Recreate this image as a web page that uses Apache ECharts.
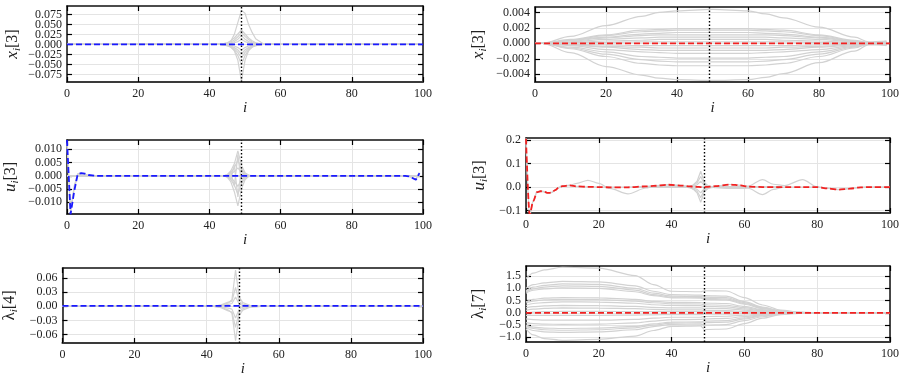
<!DOCTYPE html>
<html>
<head>
<meta charset="utf-8">
<title>trajectories</title>
<script src="https://cdn.jsdelivr.net/npm/echarts@6/dist/echarts.min.js"></script>
<style>
html, body { margin: 0; padding: 0; background: #fff; }
#main { width: 904px; height: 380px; }
</style>
</head>
<body>
<div id="main"></div>
<script>
// ---------------- data ----------------
// x ticks shared by every panel
var iTicks = [0, 20, 40, 60, 80, 100];

// panel 1 : x_i[3] (left)
var x1Ticks = [-0.075, -0.05, -0.025, 0, 0.025, 0.05, 0.075];
var x1Idx = [0, 43, 45, 46, 47, 48, 49, 50, 51, 52, 53, 55, 99];
var x1Gray = [
	[0, 0, 0.002, 0.008, 0.025, 0.055, 0.085, 0.078, 0.05, 0.03, 0.014, 0.002, 0],
	[0, 0, 0.004, 0.009, 0.016, 0.026, 0.036, 0.026, 0.016, 0.009, 0.004, 0, 0],
	[0, 0, 0.003, 0.006, 0.011, 0.019, 0.03, 0.02, 0.012, 0.006, 0.003, 0, 0],
	[0, 0, 0.002, 0.004, 0.007, 0.013, 0.022, 0.013, 0.007, 0.004, 0.002, 0, 0],
	[0, 0, 0.001, 0.002, 0.004, 0.007, 0.012, 0.007, 0.004, 0.002, 0.001, 0, 0],
	[0, 0, -0.001, -0.002, -0.004, -0.008, -0.014, -0.008, -0.004, -0.002, -0.001, 0, 0],
	[0, 0, -0.002, -0.004, -0.008, -0.014, -0.024, -0.014, -0.008, -0.004, -0.002, 0, 0],
	[0, 0, -0.003, -0.006, -0.011, -0.02, -0.034, -0.02, -0.011, -0.006, -0.003, 0, 0],
	[0, 0, -0.003, -0.007, -0.014, -0.028, -0.05, -0.028, -0.014, -0.007, -0.003, 0, 0],
	[0, 0, -0.002, -0.006, -0.016, -0.04, -0.092, -0.04, -0.016, -0.006, -0.002, 0, 0]
];
var x1RefIdx = [0, 100];
var x1Ref = [0, 0];

// panel 2 : x_i[3] (right)
var x2Ticks = [-0.004, -0.002, 0, 0.002, 0.004];
var x2Idx = [0, 2, 10, 20, 30, 35, 40, 50, 60, 65, 70, 80, 90, 94, 99];
var x2Gray = [
	[0, 0, 0.0009, 0.0023, 0.0035, 0.0040, 0.0042, 0.0044, 0.0042, 0.0038, 0.0033, 0.0021, 0.0008, 0.0002, 0.0003],
	[0, 0, 0.0005, 0.0011, 0.0017, 0.0018, 0.0019, 0.0019, 0.0019, 0.0018, 0.0017, 0.0011, 0.0004, 0.0001, -0.0002],
	[0, 0, 0.0004, 0.0010, 0.0015, 0.0016, 0.0017, 0.0017, 0.0017, 0.0016, 0.0015, 0.0010, 0.0003, 0.0001, 0.0002],
	[0, 0, 0.0004, 0.0008, 0.0012, 0.0013, 0.0014, 0.0014, 0.0014, 0.0013, 0.0012, 0.0008, 0.0003, 0, 0.0001],
	[0, 0, 0.0003, 0.0007, 0.0010, 0.0011, 0.0011, 0.0011, 0.0011, 0.0011, 0.0010, 0.0007, 0.0002, 0, -0.0001],
	[0, 0, 0.0002, 0.0005, 0.0007, 0.0008, 0.0008, 0.0008, 0.0008, 0.0008, 0.0007, 0.0005, 0.0002, 0, 0.0002],
	[0, 0, 0.0001, 0.0003, 0.0004, 0.0005, 0.0005, 0.0005, 0.0005, 0.0005, 0.0004, 0.0003, 0.0001, 0, -0.0002],
	[0, 0, 0.0001, 0.0001, 0.0002, 0.0002, 0.0002, 0.0002, 0.0002, 0.0002, 0.0002, 0.0001, 0, 0, 0.0003],
	[0, 0, -0.0001, -0.0002, -0.0003, -0.0003, -0.0003, -0.0003, -0.0003, -0.0003, -0.0003, -0.0002, -0.0001, 0, -0.0003],
	[0, 0, -0.0002, -0.0004, -0.0005, -0.0006, -0.0006, -0.0006, -0.0006, -0.0006, -0.0005, -0.0004, -0.0001, 0, 0.0001],
	[0, 0, -0.0002, -0.0005, -0.0008, -0.0009, -0.0009, -0.0009, -0.0009, -0.0009, -0.0008, -0.0005, -0.0002, 0, -0.0001],
	[0, 0, -0.0003, -0.0008, -0.0011, -0.0012, -0.0013, -0.0013, -0.0013, -0.0012, -0.0011, -0.0008, -0.0003, 0, 0.0002],
	[0, 0, -0.0005, -0.0011, -0.0017, -0.0018, -0.0019, -0.0019, -0.0019, -0.0018, -0.0017, -0.0011, -0.0004, -0.0001, -0.0002],
	[0, 0, -0.0006, -0.0014, -0.0021, -0.0023, -0.0024, -0.0024, -0.0024, -0.0023, -0.0021, -0.0014, -0.0005, -0.0001, 0.0001],
	[0, 0, -0.0007, -0.0017, -0.0026, -0.0028, -0.0029, -0.0029, -0.0029, -0.0028, -0.0026, -0.0017, -0.0006, -0.0001, -0.0001],
	[0, 0, -0.0012, -0.0030, -0.0041, -0.0045, -0.0047, -0.0048, -0.0047, -0.0044, -0.0039, -0.0025, -0.0010, -0.0002, -0.0002]
];
var x2RefIdx = [0, 100];
var x2Ref = [0, 0];

// panel 3 : u_i[3] (left)
var u3Ticks = [-0.01, -0.005, 0, 0.005, 0.01];
var u3RefIdx = [0, 1, 2, 3, 4, 5, 6, 8, 95, 96, 97, 98, 99];
var u3Ref = [0.0135, -0.0145, -0.006, 0.0006, 0.001, 0.0008, 0.0003, 0, 0, -0.0002, -0.0008, -0.0015, 0.001];
var u3EdgeGray = [
	[0.012, -0.013, -0.004, 0.0008, 0.0009, 0.0006, 0.0002, 0, 0, -0.0002, -0.0007, -0.0013, 0.0008],
	[0.0125, -0.0138, -0.005, 0.0002, 0.0008, 0.0005, 0.0002, 0, 0, -0.0001, -0.0006, -0.0012, 0.0012]
];
var u3Idx = [0, 44, 45, 46, 47, 48, 49, 50, 51, 52, 99];
var u3Gray = [
	[0, 0, 0.0004, 0.0018, 0.0045, 0.0094, 0.004, 0.0012, 0.0003, 0, 0],
	[0, 0, -0.0005, -0.0022, -0.006, -0.0113, -0.005, -0.0015, -0.0003, 0, 0],
	[0, 0, 0.0003, 0.0012, 0.003, 0.006, 0.0025, 0.0008, 0.0002, 0, 0],
	[0, 0, -0.0003, -0.0014, -0.0035, -0.007, -0.003, -0.0009, -0.0002, 0, 0],
	[0, 0, 0.0002, 0.0007, 0.0016, 0.003, 0.0013, 0.0004, 0, 0, 0],
	[0, 0, -0.0002, -0.0008, -0.002, -0.004, -0.0016, -0.0005, 0, 0, 0],
	[0, 0, 0.0003, -0.0015, 0.004, -0.008, 0.003, -0.001, 0.0002, 0, 0],
	[0, 0, -0.0003, 0.0015, -0.004, 0.008, -0.003, 0.001, -0.0002, 0, 0]
];

// panel 4 : u_i[3] (right)
var u4Ticks = [-0.1, 0, 0.1, 0.2];
var u4Idx = [0, 1, 2, 3, 4, 5, 6, 7, 8, 9, 10, 12, 14, 17, 20, 23, 28, 33, 35, 39, 43, 45, 46, 47, 48, 49, 50, 51, 52, 56, 59, 61, 65, 68, 71, 76, 80, 83, 86, 89, 92, 95, 100];
var u4Ref = [0.207, -0.118, -0.06, -0.022, -0.018, -0.02, -0.025, -0.024, -0.013, -0.002, 0.004, 0.007, 0.003, 0.001, 0, -0.001, -0.001, 0.003, 0.005, 0.01, 0.006, 0.003, 0.002, 0.001, 0, 0, 0.001, 0.002, 0.004, 0.011, 0.007, 0.002, 0, 0, 0, 0, 0, -0.006, -0.011, -0.007, -0.001, 0, 0];
var u4Gray = [
	[0.2, -0.115, -0.058, -0.02, -0.016, -0.019, -0.024, -0.023, -0.012, -0.001, 0.005, 0.008, 0.016, 0.029, 0.016, -0.006, -0.029, -0.004, 0.004, 0.01, 0.006, 0.003, 0.002, 0.001, 0, 0, 0.001, 0.002, 0.004, 0.011, 0.007, 0.004, 0.032, 0.012, 0.006, 0.032, 0.001, -0.006, -0.011, -0.007, -0.001, 0, 0],
	[0.21, -0.12, -0.062, -0.024, -0.019, -0.021, -0.025, -0.024, -0.014, -0.003, 0.004, 0.006, 0.003, 0.001, 0, 0, 0, 0.003, 0.005, 0.009, 0.005, 0.002, 0.002, 0.001, 0, 0, 0, -0.001, -0.003, -0.006, -0.006, -0.005, -0.032, -0.01, 0, 0, 0, -0.005, -0.01, -0.006, -0.001, 0, 0]
];
var u4SpikeIdx = [30, 44, 45, 46, 47, 48, 49, 50, 51, 52, 70];
var u4Spike = [
	[0, 0, 0.002, 0.01, 0.025, 0.068, 0.02, 0.006, 0.002, 0, 0],
	[0, 0, -0.002, -0.01, -0.025, -0.065, -0.02, -0.006, -0.002, 0, 0],
	[0, 0, 0.002, 0.008, 0.018, 0.045, 0.012, 0.004, 0.001, 0, 0],
	[0, 0, -0.002, -0.008, -0.018, -0.045, -0.012, -0.004, -0.001, 0, 0],
	[0, 0, 0.001, 0.004, 0.01, 0.025, 0.006, 0.002, 0, 0, 0],
	[0, 0, -0.001, -0.004, -0.01, -0.025, -0.006, -0.002, 0, 0, 0]
];

// panel 5 : lambda_i[4] (left)
var l5Ticks = [-0.06, -0.03, 0, 0.03, 0.06];
var l5Idx = [0, 42, 44, 46, 47, 48, 49, 50, 52, 55, 100];
var l5Gray = [
	[0, 0, 0.002, 0.007, 0.014, 0.077, 0.02, 0.008, 0.002, 0, 0],
	[0, 0, -0.002, -0.008, -0.014, -0.073, -0.02, -0.008, -0.002, 0, 0],
	[0, 0, 0.003, 0.009, 0.011, 0.04, 0.01, 0.005, 0.001, 0, 0],
	[0, 0, -0.003, -0.01, -0.012, -0.045, -0.012, -0.005, -0.001, 0, 0],
	[0, 0, 0.001, 0.004, 0.006, 0.02, 0.005, 0.002, 0, 0, 0],
	[0, 0, -0.001, -0.004, -0.006, -0.025, -0.006, -0.002, 0, 0, 0]
];
var l5RefIdx = [0, 100];
var l5Ref = [0.001, 0.001];

// panel 6 : lambda_i[7] (right)
var l6Ticks = [-1, -0.5, 0, 0.5, 1, 1.5];
var l6Idx = [0, 2, 5, 10, 20, 30, 35, 40, 48, 49, 55, 60, 65, 70, 75, 80, 100];
var l6Gray = [
	[1.40, 1.62, 1.75, 1.86, 1.82, 1.52, 1.15, 0.88, 0.86, 0.90, 0.89, 0.62, 0.32, 0.11, 0.03, 0, 0],
	[1.0, 1.15, 1.22, 1.28, 1.26, 1.1, 0.88, 0.74, 0.72, 0.70, 0.68, 0.46, 0.23, 0.08, 0.02, 0, 0],
	[0.9, 1.05, 1.12, 1.18, 1.16, 1.0, 0.8, 0.68, 0.67, 0.64, 0.62, 0.42, 0.21, 0.07, 0.02, 0, 0],
	[0.85, 0.98, 1.05, 1.1, 1.08, 0.93, 0.74, 0.64, 0.63, 0.59, 0.57, 0.38, 0.19, 0.06, 0.015, 0, 0],
	[0.8, 0.92, 0.98, 1.02, 1.0, 0.86, 0.7, 0.61, 0.6, 0.55, 0.53, 0.35, 0.17, 0.05, 0.01, 0, 0],
	[0.45, 0.55, 0.6, 0.62, 0.61, 0.55, 0.47, 0.43, 0.42, 0.4, 0.38, 0.26, 0.13, 0.04, 0.01, 0, 0],
	[0.4, 0.48, 0.53, 0.55, 0.54, 0.48, 0.41, 0.37, 0.36, 0.33, 0.31, 0.21, 0.1, 0.03, 0.01, 0, 0],
	[0.3, 0.38, 0.42, 0.45, 0.44, 0.39, 0.33, 0.3, 0.29, 0.26, 0.24, 0.16, 0.08, 0.02, 0, 0, 0],
	[0.2, 0.25, 0.28, 0.3, 0.29, 0.26, 0.22, 0.2, 0.2, 0.18, 0.17, 0.11, 0.05, 0.02, 0, 0, 0],
	[0.1, 0.15, 0.18, 0.2, 0.19, 0.17, 0.14, 0.12, 0.12, 0.1, 0.09, 0.06, 0.03, 0.01, 0, 0, 0],
	[0.0, 0.03, 0.05, 0.06, 0.06, 0.05, 0.05, 0.05, 0.05, 0.04, 0.04, 0.03, 0.01, 0, 0, 0, 0],
	[-0.1, -0.1, -0.1, -0.1, -0.1, -0.09, -0.08, -0.07, -0.07, -0.05, -0.05, -0.03, -0.02, 0, 0, 0, 0],
	[-0.25, -0.28, -0.3, -0.3, -0.3, -0.27, -0.22, -0.18, -0.18, -0.15, -0.14, -0.09, -0.05, -0.01, 0, 0, 0],
	[-0.4, -0.44, -0.46, -0.47, -0.46, -0.41, -0.34, -0.28, -0.27, -0.25, -0.23, -0.15, -0.08, -0.02, 0, 0, 0],
	[-0.5, -0.58, -0.62, -0.64, -0.62, -0.55, -0.45, -0.38, -0.37, -0.34, -0.32, -0.21, -0.1, -0.03, -0.01, 0, 0],
	[-0.55, -0.64, -0.69, -0.71, -0.69, -0.61, -0.5, -0.42, -0.41, -0.4, -0.38, -0.25, -0.12, -0.04, -0.01, 0, 0],
	[-0.6, -0.72, -0.78, -0.8, -0.78, -0.69, -0.56, -0.47, -0.46, -0.5, -0.48, -0.32, -0.16, -0.05, -0.01, 0, 0],
	[-0.65, -0.9, -1.05, -1.12, -1.08, -0.95, -0.72, -0.55, -0.53, -0.68, -0.66, -0.44, -0.22, -0.07, -0.02, 0, 0]
];
var l6RefIdx = [0, 100];
var l6Ref = [0, 0];

// instant of the dotted marker
var markI = 49;

// ---------------- layout ----------------
var FONT = 'Liberation Serif';
var GRAY = '#d2d2d2';

var panels = [
	{ box: [67, 6, 356, 76], range: [-0.094, 0.096], ticks: x1Ticks, dec: 3, sym: 'x', sub: 'i', idx: '[3]', gap: 44, ref: 'blue',
		gray: [{ xs: x1Idx, ys: x1Gray }], refIdx: x1RefIdx, refVal: x1Ref, smooth: false },
	{ box: [535, 7, 355, 75], range: [-0.005, 0.0047], ticks: x2Ticks, dec: 3, sym: 'x', sub: 'i', idx: '[3]', gap: 46, ref: 'red',
		gray: [{ xs: x2Idx, ys: x2Gray, smooth: 0.35 }], refIdx: x2RefIdx, refVal: x2Ref, smooth: false },
	{ box: [67, 140, 356, 74], range: [-0.0144, 0.0135], ticks: u3Ticks, dec: 3, sym: 'u', sub: 'i', idx: '[3]', gap: 46, ref: 'blue',
		gray: [{ xs: u3RefIdx, ys: u3EdgeGray }, { xs: u3Idx, ys: u3Gray }], refIdx: u3RefIdx, refVal: u3Ref, smooth: false },
	{ box: [526, 138, 364, 75], range: [-0.111, 0.21], ticks: u4Ticks, dec: 1, sym: 'u', sub: 'i', idx: '[3]', gap: 36, ref: 'red',
		gray: [{ xs: u4Idx, ys: u4Gray, smooth: 0.3 }, { xs: u4SpikeIdx, ys: u4Spike }], refIdx: u4Idx, refVal: u4Ref, smooth: 0.3 },
	{ box: [62, 268, 361, 75], range: [-0.078, 0.0815], ticks: l5Ticks, dec: 2, sym: 'λ', sub: 'i', idx: '[4]', gap: 43, ref: 'blue',
		gray: [{ xs: l5Idx, ys: l5Gray }], refIdx: l5RefIdx, refVal: l5Ref, smooth: false },
	{ box: [526, 266, 364, 76], range: [-1.19, 1.91], ticks: l6Ticks, dec: 1, sym: 'λ', sub: 'i', idx: '[7]', gap: 37, ref: 'red',
		gray: [{ xs: l6Idx, ys: l6Gray, smooth: 0.3 }], refIdx: l6RefIdx, refVal: l6Ref, smooth: false }
];

function pairs(xs, ys) {
	return xs.map(function(x, k) { return [x, ys[k]]; });
}

function minusFmt(dec) {
	return function(v) {
		return v.toFixed(dec).replace('-', '\u2212');
	};
}

// every other tick (labels are split over two axes so none gets hidden)
function everyOther(arr, start) {
	return arr.filter(function(v, k) { return k % 2 === start; });
}

var grids = [], xAxes = [], yAxes = [], series = [];

panels.forEach(function(p, k) {
	grids.push({ left: p.box[0], top: p.box[1], width: p.box[2], height: p.box[3], show: false });

	var tick = { show: true, inside: true, length: 5, lineStyle: { color: '#000', width: 1.2 } };
	var edge = { show: true, onZero: false, lineStyle: { color: '#111', width: 1.5 } };
	var yLabel = { margin: 5, fontFamily: FONT, fontSize: 12, color: '#222',
		showMinLabel: true, showMaxLabel: true, hideOverlap: false, formatter: minusFmt(p.dec) };

	// bottom x axis (labels + grid) and mirrored top one (ticks only)
	xAxes.push({
		type: 'value', gridIndex: k, position: 'bottom', min: 0, max: 100,
		axisLine: { show: true, onZero: false, lineStyle: { color: '#3a3a3a', width: 2.2 } },
		axisTick: Object.assign({ customValues: iTicks }, tick),
		axisLabel: { customValues: iTicks, margin: 6, fontFamily: FONT, fontSize: 12, color: '#222',
			showMinLabel: true, showMaxLabel: true },
		splitLine: { show: true, lineStyle: { color: '#e4e4e4', width: 1 } },
		name: 'i', nameLocation: 'middle', nameGap: 19,
		nameTextStyle: { fontFamily: FONT, fontStyle: 'italic', fontSize: 15, color: '#222' }
	});
	xAxes.push({
		type: 'value', gridIndex: k, position: 'top', min: 0, max: 100,
		axisLine: edge,
		axisTick: Object.assign({ customValues: iTicks }, tick),
		axisLabel: { show: false }, splitLine: { show: false }
	});

	// left y axis (grid, ticks, half of the labels), mirrored right one, second label carrier
	yAxes.push({
		type: 'value', gridIndex: k, position: 'left', min: p.range[0], max: p.range[1],
		axisLine: edge,
		axisTick: Object.assign({ customValues: p.ticks }, tick),
		axisLabel: Object.assign({ customValues: everyOther(p.ticks, 0) }, yLabel),
		splitLine: { show: true, lineStyle: { color: '#e4e4e4', width: 1.2 } },
		name: '{v|' + p.sym + '}{s|' + p.sub + '}{b|' + p.idx + '}',
		nameLocation: 'middle', nameGap: p.gap,
		nameTextStyle: {
			fontFamily: FONT, color: '#222',
			rich: {
				v: { fontFamily: FONT, fontStyle: p.sym === 'λ' ? 'normal' : 'italic', fontSize: 17, lineHeight: 20, color: '#222' },
				s: { fontFamily: FONT, fontStyle: 'italic', fontSize: 11, lineHeight: 20, verticalAlign: 'bottom', color: '#222' },
				b: { fontFamily: FONT, fontSize: 16, lineHeight: 20, color: '#222' }
			}
		}
	});
	yAxes.push({
		type: 'value', gridIndex: k, position: 'right', min: p.range[0], max: p.range[1],
		axisLine: edge,
		axisTick: Object.assign({ customValues: p.ticks }, tick),
		axisLabel: { show: false }, splitLine: { show: false }
	});
	yAxes.push({
		type: 'value', gridIndex: k, position: 'left', offset: 0, min: p.range[0], max: p.range[1],
		axisLine: { show: false }, axisTick: { show: false }, splitLine: { show: false },
		axisLabel: Object.assign({ customValues: everyOther(p.ticks, 1) }, yLabel)
	});

	// gray family of trajectories
	p.gray.forEach(function(g) {
		g.ys.forEach(function(ys) {
			series.push({
				type: 'line', xAxisIndex: 2 * k, yAxisIndex: 3 * k,
				data: pairs(g.xs, ys), showSymbol: false, silent: true,
				smooth: g.smooth || false, smoothMonotone: 'x', z: 2,
				lineStyle: { color: GRAY, width: 1.2 }
			});
		});
	});

	// dashed reference trajectory + dotted marker at i = 49
	series.push({
		type: 'line', xAxisIndex: 2 * k, yAxisIndex: 3 * k,
		data: pairs(p.refIdx, p.refVal), showSymbol: false, silent: true,
		smooth: p.smooth, smoothMonotone: 'x', z: 5,
		lineStyle: { color: p.ref === 'blue' ? '#1a1aff' : '#f22222', width: 1.8, type: [6, 3] },
		markLine: {
			silent: true, symbol: ['none', 'none'], label: { show: false },
			lineStyle: { color: '#000', width: 1.4, type: [1.5, 2] },
			data: [{ xAxis: markI }]
		}
	});
});

var myChart = echarts.init(document.getElementById('main'));
var option = {
	backgroundColor: '#fff',
	animation: false,
	grid: grids,
	xAxis: xAxes,
	yAxis: yAxes,
	series: series
};
myChart.setOption(option);
</script>
</body>
</html>
